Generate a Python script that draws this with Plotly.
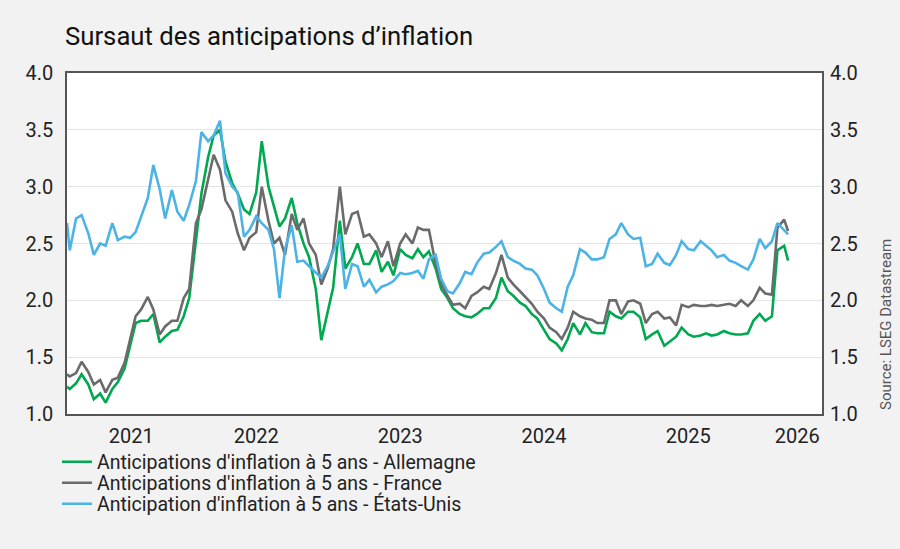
import plotly.graph_objects as go

# ---- data (semi-monthly readings) ----
start_date = "2020-09-08"
end_date = "2025-09-11"
dates = [start_date]
y, m = 2020, 9
while (y, m) <= (2025, 8):
    dates.append(f"{y}-{m:02d}-15")
    ny, nm = (y + 1, 1) if m == 12 else (y, m + 1)
    dates.append(f"{ny}-{nm:02d}-01")
    y, m = ny, nm
dates.append(end_date)

germany = [
    1.24, 1.22, 1.27, 1.35, 1.26, 1.13, 1.18, 1.10, 1.22,
    1.28, 1.40, 1.59, 1.80, 1.82, 1.82, 1.88, 1.63, 1.68, 1.73, 1.74, 1.86,
    2.02, 2.55, 2.94, 3.26, 3.45, 3.50, 3.22, 3.03, 2.94, 2.80, 2.76, 2.95,
    3.40, 3.00, 2.82, 2.65, 2.72, 2.90, 2.68, 2.50, 2.38, 2.10, 1.65, 1.90,
    2.11, 2.70, 2.28, 2.38, 2.50, 2.32, 2.32, 2.44, 2.25, 2.34, 2.22, 2.45,
    2.40, 2.37, 2.45, 2.38, 2.43, 2.28, 2.10, 2.02, 1.93, 1.88, 1.86, 1.85,
    1.88, 1.93, 1.93, 2.02, 2.20, 2.08, 2.04, 1.98, 1.95, 1.88, 1.84, 1.74,
    1.66, 1.62, 1.56, 1.66, 1.80, 1.70, 1.80, 1.72, 1.71, 1.71, 1.90, 1.86,
    1.84, 1.90, 1.90, 1.85, 1.66, 1.70, 1.73, 1.60, 1.64, 1.68, 1.76, 1.70,
    1.68, 1.69, 1.71, 1.69, 1.70, 1.73, 1.71, 1.70, 1.70, 1.71, 1.82, 1.88,
    1.82, 1.86, 2.44, 2.48, 2.35,
]

france = [
    1.35, 1.33, 1.36, 1.46, 1.37, 1.26, 1.30, 1.19, 1.30,
    1.32, 1.45, 1.66, 1.86, 1.92, 2.03, 1.92, 1.70, 1.77, 1.82, 1.82, 2.02,
    2.10, 2.68, 2.80, 3.05, 3.28, 3.15, 2.88, 2.78, 2.59, 2.44, 2.55, 2.60,
    3.00, 2.70, 2.50, 2.55, 2.40, 2.76, 2.62, 2.72, 2.50, 2.40, 2.14, 2.28,
    2.45, 3.00, 2.58, 2.76, 2.78, 2.56, 2.58, 2.50, 2.38, 2.52, 2.30, 2.50,
    2.58, 2.50, 2.64, 2.62, 2.62, 2.32, 2.15, 2.04, 1.96, 1.97, 1.93, 2.04,
    2.07, 2.12, 2.10, 2.24, 2.40, 2.20, 2.14, 2.08, 2.03, 1.97, 1.90, 1.84,
    1.76, 1.72, 1.66, 1.76, 1.90, 1.86, 1.84, 1.83, 1.80, 1.80, 2.00, 2.00,
    1.88, 1.99, 2.00, 1.97, 1.80, 1.88, 1.90, 1.84, 1.85, 1.78, 1.96, 1.94,
    1.96, 1.95, 1.95, 1.96, 1.95, 1.96, 1.97, 1.95, 2.00, 1.95, 2.00, 2.11,
    2.06, 2.05, 2.64, 2.71, 2.61,
]

usa = [
    2.68, 2.44, 2.72, 2.75, 2.59, 2.40, 2.50, 2.48, 2.68,
    2.53, 2.56, 2.55, 2.60, 2.74, 2.90, 3.19, 2.98, 2.72, 2.97, 2.78, 2.70,
    2.84, 3.05, 3.48, 3.40, 3.45, 3.58, 3.12, 3.00, 2.95, 2.56, 2.62, 2.74,
    2.68, 2.62, 2.45, 2.02, 2.45, 2.66, 2.34, 2.35, 2.30, 2.24, 2.20, 2.30,
    2.43, 2.58, 2.10, 2.32, 2.30, 2.12, 2.18, 2.07, 2.12, 2.14, 2.17, 2.24,
    2.23, 2.24, 2.26, 2.19, 2.36, 2.40, 2.19, 2.08, 2.06, 2.15, 2.25, 2.23,
    2.33, 2.41, 2.42, 2.47, 2.52, 2.38, 2.35, 2.32, 2.28, 2.27, 2.22, 2.10,
    1.98, 1.93, 1.90, 2.12, 2.22, 2.45, 2.42, 2.36, 2.36, 2.38, 2.54, 2.58,
    2.68, 2.58, 2.54, 2.55, 2.30, 2.32, 2.41, 2.33, 2.31, 2.40, 2.52, 2.45,
    2.44, 2.52, 2.48, 2.44, 2.38, 2.40, 2.35, 2.33, 2.30, 2.27, 2.36, 2.54,
    2.46, 2.52, 2.68, 2.62, 2.58,
]

names = [
    "Anticipations d'inflation à 5 ans - Allemagne",
    "Anticipations d'inflation à 5 ans - France",
    "Anticipation d'inflation à 5 ans - États-Unis",
]
colors = ["#00a84f", "#6b6b6b", "#4cb3e6"]

x_tick_vals = ["2021-02-18", "2022-01-01", "2023-01-01", "2024-01-01", "2025-01-01", "2025-10-04"]
x_tick_text = ["2021", "2022", "2023", "2024", "2025", "2026"]
y_ticks = [1.0, 1.5, 2.0, 2.5, 3.0, 3.5, 4.0]

title_text = "Sursaut des anticipations d’inflation"
source_text = "Source: LSEG Datastream"

FONT = "Roboto"
W, H = 900, 549
L, R, T, B = 67, 78, 73, 135
pw, ph = W - L - R, H - T - B

fig = go.Figure()
series = [germany, france, usa]
legend_ids = ["legend", "legend2", "legend3"]
for i, (vals, nm, col) in enumerate(zip(series, names, colors)):
    fig.add_trace(go.Scatter(
        x=dates, y=vals, name=nm, mode="lines",
        line=dict(color=col, width=2.6),
        yaxis="y2" if i == 2 else "y",
        legend=legend_ids[i],
    ))

axis_font = dict(family=FONT, size=20, color="#222222")

def py(pix):
    return (H - B - pix) / ph

leg_rows = [462, 483, 504]
leg_common = dict(x=(57 - L) / pw, xanchor="left", yanchor="middle",
                  bgcolor="rgba(0,0,0,0)", font=dict(family=FONT, size=19.5, color="#222222"),
                  itemwidth=30)

fig.update_layout(
    width=W, height=H,
    margin=dict(l=L, r=R, t=T, b=B),
    paper_bgcolor="#f2f2f2",
    plot_bgcolor="#ffffff",
    showlegend=True,
    legend=dict(y=py(leg_rows[0]), **leg_common),
    legend2=dict(y=py(leg_rows[1]), **leg_common),
    legend3=dict(y=py(leg_rows[2]), **leg_common),
    xaxis=dict(
        type="date", range=["2020-09-08", "2025-12-06"],
        tickvals=x_tick_vals, ticktext=x_tick_text,
        showgrid=False, zeroline=False,
        showline=True, linecolor="#555555", linewidth=1.5, mirror=True,
        ticks="", tickfont=axis_font, ticklabelstandoff=3,
    ),
    yaxis=dict(
        range=[1.0, 4.0], tickvals=y_ticks, tickformat=".1f",
        showgrid=True, gridcolor="#e4e4e4", gridwidth=1, zeroline=False,
        showline=True, linecolor="#555555", linewidth=1.5, mirror=True,
        ticks="", tickfont=axis_font, ticklabelstandoff=8,
    ),
    yaxis2=dict(
        range=[1.0, 4.0], tickvals=y_ticks, tickformat=".1f",
        overlaying="y", side="right",
        showgrid=False, zeroline=False, showline=False,
        ticks="", tickfont=axis_font, ticklabelstandoff=7,
    ),
    annotations=[
        dict(text=title_text, xref="paper", yref="paper",
             x=(63 - L) / pw, y=py(36), xanchor="left", yanchor="middle",
             showarrow=False, font=dict(family=FONT, size=25.7, color="#111111")),
        dict(text=source_text, xref="paper", yref="paper",
             x=(886 - L) / pw, y=py(325), xanchor="center", yanchor="middle",
             textangle=-90, showarrow=False,
             font=dict(family=FONT, size=15, color="#555555")),
    ],
)

fig.write_html(
    "out.html",
    config={"displayModeBar": False},
    post_script="document.body.style.margin='0px';document.body.style.backgroundColor='#f2f2f2';document.body.style.overflow='hidden';",
)
